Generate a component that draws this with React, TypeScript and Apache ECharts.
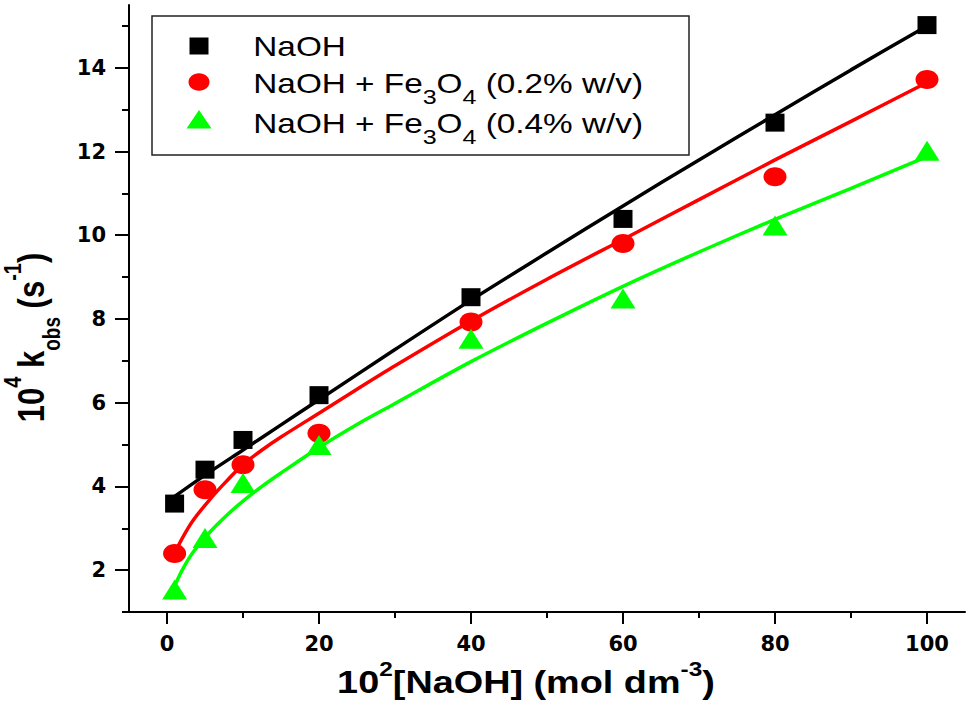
import React, { useEffect, useRef } from 'react';
import * as echarts from 'echarts';

// Axis ticks
const xTicks = [0, 20, 40, 60, 80, 100];
const xMinorTicks = [10, 30, 50, 70, 90];
const yTicks = [2, 4, 6, 8, 10, 12, 14];
const yMinorTicks = [1, 3, 5, 7, 9, 11, 13, 15];

// Measured points
const conc = [1, 5, 10, 20, 40, 60, 80, 100];
const naohK = [3.59, 4.4, 5.11, 6.18, 8.52, 10.39, 12.69, 15.02];
const fe02K = [2.4, 3.92, 4.52, 5.27, 7.93, 9.8, 11.4, 13.72];
const fe04K = [1.54, 2.77, 4.08, 4.99, 7.53, 8.49, 10.23, 12.02];

// Fitted curves
const naohFitX = [1, 5, 10, 15, 20, 30, 40, 50, 60, 70, 80, 90, 100];
const naohFitY = [3.76, 4.27, 4.87, 5.47, 6.07, 7.27, 8.45, 9.58, 10.7, 11.8, 12.88, 13.95, 15.0];
const feFitX = [1, 2, 3.4, 5.6, 7.8, 10, 12.5, 15, 20, 25, 30, 40, 50, 60, 70, 80, 90, 100];
const fe02FitY = [2.4, 2.76, 3.18, 3.68, 4.12, 4.52, 4.87, 5.18, 5.75, 6.32, 6.88, 7.95, 8.95, 9.9, 10.85, 11.8, 12.72, 13.65];
const fe04FitY = [1.62, 2.0, 2.42, 2.9, 3.3, 3.65, 4.0, 4.32, 4.93, 5.48, 5.98, 6.98, 7.9, 8.78, 9.6, 10.38, 11.12, 11.88];

const zip = (xs: number[], ys: number[]) => xs.map((x, i) => [x, ys[i]]);

const ELLIPSE =
  'path://M10,0 C15.52,0 20,4.48 20,10 C20,15.52 15.52,20 10,20 C4.48,20 0,15.52 0,10 C0,4.48 4.48,0 10,0 Z';

const TITLE_FONT = 'Liberation Sans, Arial, sans-serif';
const TICK_FONT = 'DejaVu Sans, sans-serif';

export default function App() {
  const ref = useRef<HTMLDivElement>(null);

  useEffect(() => {
    document.body.style.margin = '0';
    if (!ref.current) return;
    const chart = echarts.init(ref.current, undefined, { renderer: 'svg' });

    const tickLabel = {
      color: '#000',
      fontSize: 21,
      fontWeight: 'bold',
      fontFamily: TICK_FONT,
    };
    const axisLineStyle = { color: '#000', width: 2 };

    const xTitleRich = {
      m: { fontSize: 31, fontWeight: 'bold', fontFamily: TITLE_FONT, lineHeight: 46, fill: '#000' },
      p: { fontSize: 20, fontWeight: 'bold', fontFamily: TITLE_FONT, verticalAlign: 'top', fill: '#000' },
    };
    const yTitleRich = {
      m: { fontSize: 31, fontWeight: 'bold', fontFamily: TITLE_FONT, lineHeight: 53, fill: '#000' },
      p: {
        fontSize: 20,
        fontWeight: 'bold',
        fontFamily: TITLE_FONT,
        verticalAlign: 'top',
        padding: [2, 0, 0, 0],
        fill: '#000',
      },
      b: { fontSize: 19, fontWeight: 'bold', fontFamily: TITLE_FONT, verticalAlign: 'bottom', fill: '#000' },
    };
    const legendRich = {
      m: { fontSize: 28, fontFamily: TITLE_FONT, lineHeight: 47, fill: '#000' },
      s: { fontSize: 21, fontFamily: TITLE_FONT, verticalAlign: 'bottom', fill: '#000' },
    };

    const option: any = {
      animation: false,
      backgroundColor: '#fff',
      grid: { left: 129, right: 4, top: 5, bottom: 94, containLabel: false, outerBoundsMode: 'none' },
      xAxis: [
        {
          type: 'value',
          min: -5,
          max: 105,
          position: 'bottom',
          axisLine: { show: true, onZero: false, lineStyle: axisLineStyle },
          axisTick: { show: true, customValues: xTicks, length: 12, lineStyle: axisLineStyle },
          axisLabel: { ...tickLabel, customValues: xTicks, margin: 21 },
          splitLine: { show: false },
        },
        {
          type: 'value',
          min: -5,
          max: 105,
          position: 'bottom',
          axisLine: { show: false, onZero: false },
          axisTick: { show: true, customValues: xMinorTicks, length: 6, lineStyle: axisLineStyle },
          axisLabel: { show: false },
          splitLine: { show: false },
        },
      ],
      yAxis: [
        {
          type: 'value',
          min: 1,
          max: 15.5,
          position: 'left',
          axisLine: { show: true, onZero: false, lineStyle: axisLineStyle },
          axisTick: { show: true, customValues: yTicks, length: 14, lineStyle: axisLineStyle },
          axisLabel: { ...tickLabel, customValues: yTicks, margin: 23 },
          splitLine: { show: false },
        },
        {
          type: 'value',
          min: 1,
          max: 15.5,
          position: 'left',
          axisLine: { show: false, onZero: false },
          axisTick: { show: true, customValues: yMinorTicks, length: 7, lineStyle: axisLineStyle },
          axisLabel: { show: false },
          splitLine: { show: false },
        },
      ],
      series: [
        {
          type: 'line',
          name: 'NaOH fit',
          data: zip(naohFitX, naohFitY),
          symbol: 'none',
          smooth: 0.3,
          lineStyle: { color: '#000', width: 3.5 },
          z: 2,
        },
        {
          type: 'line',
          name: 'Fe3O4 0.2 fit',
          data: zip(feFitX, fe02FitY),
          symbol: 'none',
          smooth: 0.3,
          lineStyle: { color: '#ff0000', width: 3.5 },
          z: 2,
        },
        {
          type: 'line',
          name: 'Fe3O4 0.4 fit',
          data: zip(feFitX, fe04FitY),
          symbol: 'none',
          smooth: 0.3,
          lineStyle: { color: '#00ff00', width: 3.5 },
          z: 2,
        },
        {
          type: 'scatter',
          name: 'NaOH',
          data: zip(conc, naohK),
          symbol: 'rect',
          symbolSize: [19, 18],
          itemStyle: { color: '#000', opacity: 1 },
          z: 3,
        },
        {
          type: 'scatter',
          name: 'NaOH + Fe3O4 (0.2% w/v)',
          data: zip(conc, fe02K),
          symbol: ELLIPSE,
          symbolKeepAspect: false,
          symbolSize: [23, 19],
          itemStyle: { color: '#ff0000', opacity: 1 },
          z: 3,
        },
        {
          type: 'scatter',
          name: 'NaOH + Fe3O4 (0.4% w/v)',
          data: zip(conc, fe04K),
          symbol: 'triangle',
          symbolSize: [25, 20],
          itemStyle: { color: '#00ff00', opacity: 1 },
          z: 3,
        },
      ],
      graphic: [
        // Legend
        {
          type: 'rect',
          shape: { x: 152, y: 16, width: 537, height: 139 },
          style: { fill: '#fff', stroke: '#222', lineWidth: 1.5 },
          z: 10,
        },
        {
          type: 'rect',
          shape: { x: 189.5, y: 37.5, width: 19, height: 17 },
          style: { fill: '#000' },
          z: 11,
        },
        {
          type: 'ellipse',
          shape: { cx: 199, cy: 82, rx: 10.5, ry: 8.8 },
          style: { fill: '#ff0000' },
          z: 11,
        },
        {
          type: 'polygon',
          shape: { points: [[199, 110], [211.5, 128.5], [186.5, 128.5]] },
          style: { fill: '#00ff00' },
          z: 11,
        },
        {
          type: 'text',
          x: 253.3,
          y: 46.7,
          scaleX: 1.19,
          z: 11,
          style: { text: '{m|NaOH}', align: 'left', verticalAlign: 'middle', rich: legendRich },
        },
        {
          type: 'text',
          x: 253.3,
          y: 83.3,
          scaleX: 1.19,
          z: 11,
          style: {
            text: '{m|NaOH + Fe}{s|3}{m|O}{s|4}{m| (0.2% w/v)}',
            align: 'left',
            verticalAlign: 'middle',
            rich: legendRich,
          },
        },
        {
          type: 'text',
          x: 253.3,
          y: 123.3,
          scaleX: 1.19,
          z: 11,
          style: {
            text: '{m|NaOH + Fe}{s|3}{m|O}{s|4}{m| (0.4% w/v)}',
            align: 'left',
            verticalAlign: 'middle',
            rich: legendRich,
          },
        },
        // Axis titles
        {
          type: 'text',
          x: 526,
          y: 682.3,
          scaleX: 1.22,
          style: {
            text: '{m|10}{p|2}{m|[NaOH] (mol dm}{p|-3}{m|)}',
            align: 'center',
            verticalAlign: 'middle',
            rich: xTitleRich,
          },
        },
        {
          type: 'text',
          x: 30.8,
          y: 337.5,
          rotation: Math.PI / 2,
          scaleY: 1.22,
          style: {
            text: '{m|10}{p|4}{m| k}{b|obs}{m| (s}{p|-1}{m|)}',
            align: 'center',
            verticalAlign: 'middle',
            rich: yTitleRich,
          },
        },
      ],
    };

    chart.setOption(option);
    return () => {
      chart.dispose();
    };
  }, []);

  return <div ref={ref} style={{ width: 969, height: 706 }} />;
}
